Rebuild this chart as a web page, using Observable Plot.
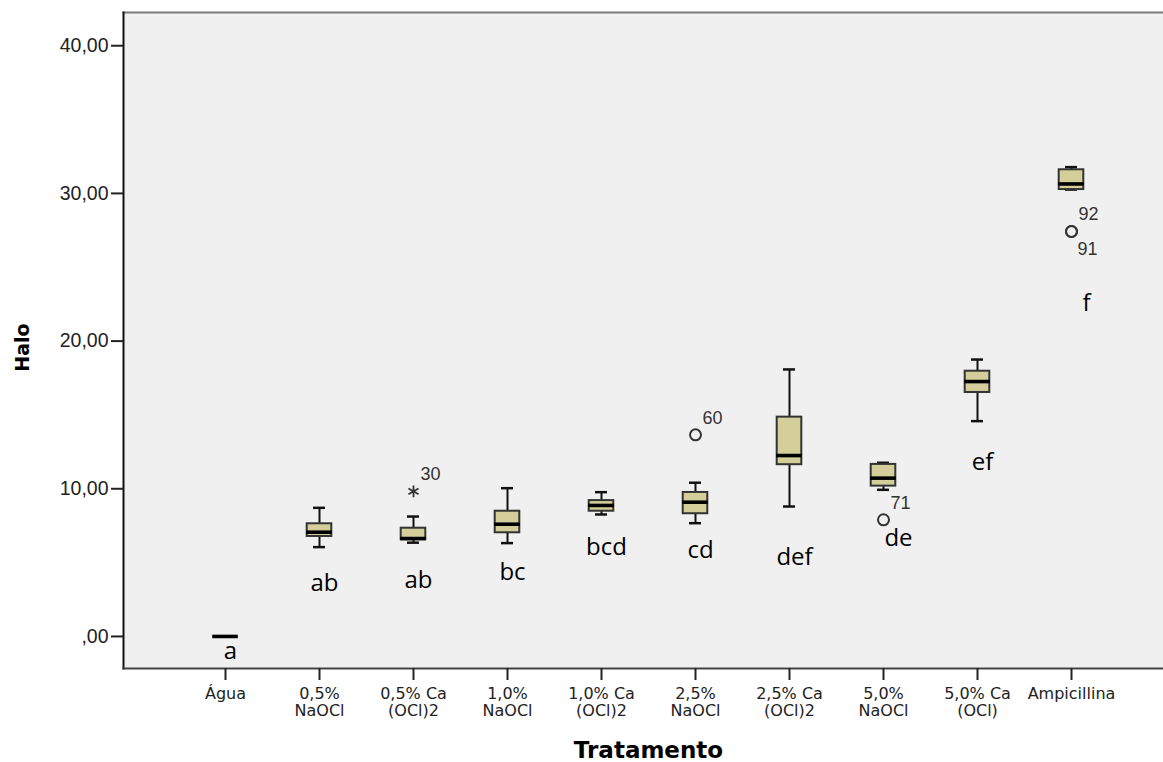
<!DOCTYPE html>
<html>
<head>
<meta charset="utf-8">
<script src="https://cdn.jsdelivr.net/npm/d3@7"></script>
<script src="https://cdn.jsdelivr.net/npm/@observablehq/plot@0.6"></script>
<style>
  html, body { margin: 0; padding: 0; background: #ffffff; }
  #chart { width: 1163px; height: 762px; }
</style>
</head>
<body>
<div id="chart"></div>
<script>
// ---- data ----
const categories = ["Água", "0,5% NaOCl", "0,5% Ca (OCl)2", "1,0% NaOCl", "1,0% Ca (OCl)2",
  "2,5% NaOCl", "2,5% Ca (OCl)2", "5,0% NaOCl", "5,0% Ca (OCl)", "Ampicillina"];
const whiskerLow  = [0, 6.05, 6.35, 6.32, 8.26, 7.67, 8.80, 9.93, 14.58, 30.26];
const quartile1   = [0, 6.77, 6.55, 7.02, 8.48, 8.31, 11.63, 10.18, 16.52, 30.26];
const medians     = [0, 7.06, 6.63, 7.60, 8.87, 9.09, 12.25, 10.72, 17.26, 30.64];
const quartile3   = [0, 7.63, 7.33, 8.48, 9.20, 9.75, 14.85, 11.65, 17.96, 31.60];
const whiskerHigh = [0, 8.71, 8.12, 10.04, 9.77, 10.41, 18.08, 11.76, 18.75, 31.78];

const outlierCategory = ["0,5% Ca (OCl)2", "2,5% NaOCl", "5,0% NaOCl", "Ampicillina", "Ampicillina"];
const outlierValue    = [9.82, 13.65, 7.90, 27.42, 27.42];
const outlierId       = ["30", "60", "71", "92", "91"];
const outlierKind     = ["extreme", "out", "out", "out", "out"];

const groupLetters = ["a", "ab", "ab", "bc", "bcd", "cd", "def", "de", "ef", "f"];
const letterValue  = [-1.02, 3.59, 3.79, 4.33, 6.03, 5.82, 5.35, 6.63, 11.78, 22.55];

const yTicks = [0, 10, 20, 30, 40];
const yDomain = [-2.17, 42.25];
const xTitle = "Tratamento";
const yTitle = "Halo";

// ---- tables built from the arrays ----
const boxes = categories.map((c, i) => ({
  cat: c, lo: whiskerLow[i], q1: quartile1[i], med: medians[i], q3: quartile3[i], hi: whiskerHigh[i]
}));
const outliers = outlierCategory.map((c, i) => ({cat: c, v: outlierValue[i], id: outlierId[i], kind: outlierKind[i]}));
const letters = categories.map((c, i) => ({cat: c, v: letterValue[i], t: groupLetters[i]}));

const fmtY = d => d === 0 ? ",00" : d.toFixed(2).replace(".", ",");
const fmtX = d => d.replace(/ (?=[^ ]*$)/, "\n");

const TICK_FONT = "Liberation Sans, Arial, sans-serif";
const XTICK_FONT = "DejaVu Sans, Verdana, sans-serif";
const TITLE_FONT = "DejaVu Sans, Verdana, sans-serif";
const LETTER_FONT = "Open Sans, Noto Sans, sans-serif";

const chart = Plot.plot({
  width: 1163,
  height: 762,
  marginLeft: 123,
  marginRight: 0,
  marginTop: 12,
  marginBottom: 94,
  style: {fontFamily: TICK_FONT, fontSize: "19px", background: "#ffffff", color: "#222"},
  x: {type: "band", domain: categories, range: [175.45, 1120.25], padding: 0, label: null},
  y: {domain: yDomain, label: null},
  marks: [
    Plot.frame({fill: "#f0f0f0"}),
    Plot.frame({anchor: "top", stroke: "#7a7a7a", strokeWidth: 2}),
    Plot.frame({anchor: "left", stroke: "#111", strokeWidth: 2}),
    Plot.frame({anchor: "bottom", stroke: "#444", strokeWidth: 2}),
    Plot.axisY({ticks: yTicks, tickFormat: fmtY, tickSize: 12, tickPadding: 3, strokeWidth: 2,
      stroke: "#222", fill: "#222", fontSize: 19.5, label: null}),
    Plot.axisX({tickFormat: fmtX, tickSize: 12, tickPadding: 6, strokeWidth: 2,
      stroke: "#222", fill: "#222", fontSize: 16, lineHeight: 1.08, label: null}),
    // whiskers
    Plot.ruleX(boxes, {x: "cat", y1: "lo", y2: "hi", stroke: "#111", strokeWidth: 2}),
    Plot.tickY(boxes, {x: "cat", y: "hi", insetLeft: 41, insetRight: 41, stroke: "#111", strokeWidth: 2.5}),
    Plot.tickY(boxes, {x: "cat", y: "lo", insetLeft: 41, insetRight: 41, stroke: "#111", strokeWidth: 2.5}),
    // boxes
    Plot.barY(boxes, {x: "cat", y1: "q1", y2: "q3", insetLeft: 34.7, insetRight: 34.7,
      fill: "#d4cf9a", stroke: "#333", strokeWidth: 2}),
    // medians
    Plot.tickY(boxes, {x: "cat", y: "med", insetLeft: 34.2, insetRight: 34.2, stroke: "#000", strokeWidth: 3.6}),
    // outliers
    Plot.dot(outliers.filter(d => d.kind === "out"), {x: "cat", y: "v", r: 5.5, fill: "none", stroke: "#333", strokeWidth: 2}),
    Plot.dot(outliers.filter(d => d.kind === "extreme"), {x: "cat", y: "v", symbol: "asterisk", r: 5.5, stroke: "#333", strokeWidth: 1.8}),
    Plot.text(outliers.filter(d => d.id !== "91"), {x: "cat", y: "v", text: "id", dx: 17, dy: -17,
      fontSize: 18, fill: "#333", fontFamily: TICK_FONT}),
    Plot.text(outliers.filter(d => d.id === "91"), {x: "cat", y: "v", text: "id", dx: 16, dy: 18,
      fontSize: 18, fill: "#333", fontFamily: TICK_FONT}),
    // group letters
    Plot.text(letters.filter(d => !["de", "f"].includes(d.t)), {x: "cat", y: "v", text: "t", dx: 5,
      fontSize: 24, fill: "#000", fontFamily: LETTER_FONT}),
    Plot.text(letters.filter(d => ["de", "f"].includes(d.t)), {x: "cat", y: "v", text: "t", dx: 15,
      fontSize: 24, fill: "#000", fontFamily: LETTER_FONT}),
    // axis titles
    Plot.text([xTitle], {frameAnchor: "bottom", dy: 82, dx: 5, text: d => d, fontSize: 23,
      fontWeight: "bold", fill: "#000", fontFamily: TITLE_FONT, lineAnchor: "middle", textAnchor: "middle"}),
    Plot.text([yTitle], {frameAnchor: "left", dx: -101, dy: 7, rotate: -90, text: d => d, fontSize: 19,
      fontWeight: "bold", fill: "#000", fontFamily: TITLE_FONT, lineAnchor: "middle", textAnchor: "middle"})
  ]
});
chart.querySelectorAll('g[aria-label="y-axis tick label"]').forEach(g => {
  g.setAttribute("font-size", "19.5"); g.setAttribute("font-family", TICK_FONT);
});
chart.querySelectorAll('g[aria-label="x-axis tick label"]').forEach(g => {
  g.setAttribute("font-size", "16"); g.setAttribute("font-family", XTICK_FONT);
});
document.getElementById("chart").appendChild(chart);
</script>
</body>
</html>
